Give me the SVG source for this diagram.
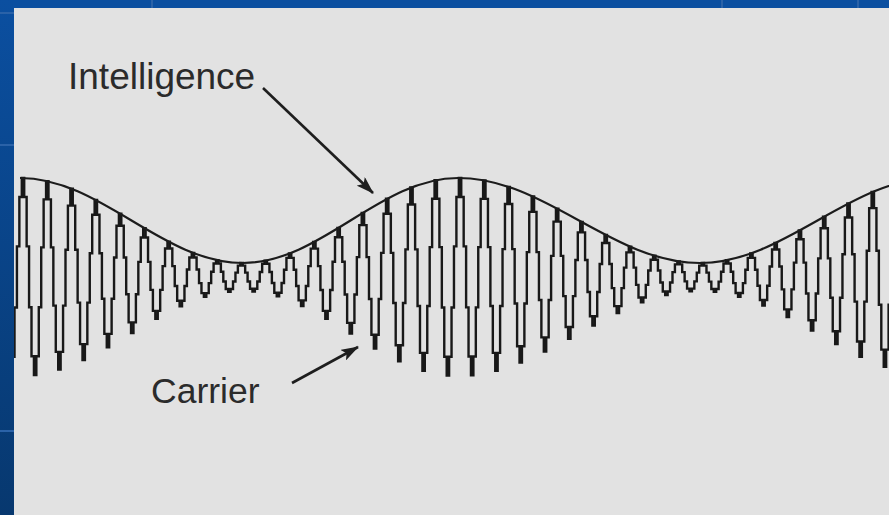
<svg xmlns="http://www.w3.org/2000/svg" width="889" height="515" viewBox="0 0 889 515">
<defs>
<style>
.lobe{fill:none;stroke:#181818;stroke-width:2.4;stroke-linejoin:miter;vector-effect:non-scaling-stroke}
.env{fill:none;stroke:#1c1c1c;stroke-width:2.2}
.lbl{font-family:"Liberation Sans",Arial,sans-serif;fill:#2b2b2b}
.arr{fill:none;stroke:#1e1e1e;stroke-width:2.6}
.hl{stroke:#2a62a8;stroke-width:2}
</style>
<linearGradient id="lg" x1="0" y1="0" x2="0" y2="1">
<stop offset="0" stop-color="#0b4fa0"/>
<stop offset="1" stop-color="#07386f"/>
</linearGradient>
<path id="up" class="lobe" d="M-6.07,0 V-0.309 H-3.64 V-0.809 H-1.21 V-1 H1.21 V-0.809 H3.64 V-0.309 H6.07 V0"/>
<path id="dn" class="lobe" d="M-6.07,0 V0.309 H-3.64 V0.809 H-1.21 V1 H1.21 V0.809 H3.64 V0.309 H6.07 V0"/>
<marker id="ah" viewBox="0 0 18 12" refX="17" refY="6" markerWidth="18" markerHeight="12" markerUnits="userSpaceOnUse" orient="auto">
<path d="M0,0 L18,6 L0,12 L4,6 Z" fill="#1e1e1e"/>
</marker>
</defs>
<rect x="0" y="0" width="889" height="515" fill="#e2e2e2"/>
<g id="carrier">
<use href="#up" transform="translate(-1.28,277) scale(1,97.10)"/>
<use href="#dn" transform="translate(10.86,277) scale(1,98.65)"/>
<use href="#up" transform="translate(23,277) scale(1,98.96)"/>
<use href="#dn" transform="translate(35.14,277) scale(1,98.04)"/>
<use href="#up" transform="translate(47.28,277) scale(1,95.90)"/>
<use href="#dn" transform="translate(59.42,277) scale(1,92.61)"/>
<use href="#up" transform="translate(71.56,277) scale(1,88.27)"/>
<use href="#dn" transform="translate(83.70,277) scale(1,83.01)"/>
<use href="#up" transform="translate(95.84,277) scale(1,76.96)"/>
<use href="#dn" transform="translate(107.98,277) scale(1,70.33)"/>
<use href="#up" transform="translate(120.12,277) scale(1,63.29)"/>
<use href="#dn" transform="translate(132.26,277) scale(1,56.05)"/>
<use href="#up" transform="translate(144.40,277) scale(1,48.82)"/>
<use href="#dn" transform="translate(156.54,277) scale(1,41.82)"/>
<use href="#up" transform="translate(168.68,277) scale(1,35.24)"/>
<use href="#dn" transform="translate(180.82,277) scale(1,29.29)"/>
<use href="#up" transform="translate(192.96,277) scale(1,24.12)"/>
<use href="#dn" transform="translate(205.10,277) scale(1,19.92)"/>
<use href="#up" transform="translate(217.24,277) scale(1,16.77)"/>
<use href="#dn" transform="translate(229.38,277) scale(1,14.78)"/>
<use href="#up" transform="translate(241.52,277) scale(1,14.01)"/>
<use href="#dn" transform="translate(253.66,277) scale(1,14.51)"/>
<use href="#up" transform="translate(265.80,277) scale(1,16.34)"/>
<use href="#dn" transform="translate(277.94,277) scale(1,19.42)"/>
<use href="#up" transform="translate(290.08,277) scale(1,23.67)"/>
<use href="#dn" transform="translate(302.22,277) scale(1,28.95)"/>
<use href="#up" transform="translate(314.36,277) scale(1,35.08)"/>
<use href="#dn" transform="translate(326.50,277) scale(1,41.90)"/>
<use href="#up" transform="translate(338.64,277) scale(1,49.17)"/>
<use href="#dn" transform="translate(350.78,277) scale(1,56.67)"/>
<use href="#up" transform="translate(362.92,277) scale(1,64.17)"/>
<use href="#dn" transform="translate(375.06,277) scale(1,71.43)"/>
<use href="#up" transform="translate(387.20,277) scale(1,78.22)"/>
<use href="#dn" transform="translate(399.34,277) scale(1,84.32)"/>
<use href="#up" transform="translate(411.48,277) scale(1,89.56)"/>
<use href="#dn" transform="translate(423.62,277) scale(1,93.75)"/>
<use href="#up" transform="translate(435.76,277) scale(1,96.78)"/>
<use href="#dn" transform="translate(447.90,277) scale(1,98.54)"/>
<use href="#up" transform="translate(460.04,277) scale(1,98.98)"/>
<use href="#dn" transform="translate(472.18,277) scale(1,98.28)"/>
<use href="#up" transform="translate(484.32,277) scale(1,96.54)"/>
<use href="#dn" transform="translate(496.46,277) scale(1,93.81)"/>
<use href="#up" transform="translate(508.60,277) scale(1,90.16)"/>
<use href="#dn" transform="translate(520.74,277) scale(1,85.66)"/>
<use href="#up" transform="translate(532.88,277) scale(1,80.45)"/>
<use href="#dn" transform="translate(545.02,277) scale(1,74.64)"/>
<use href="#up" transform="translate(557.16,277) scale(1,68.39)"/>
<use href="#dn" transform="translate(569.30,277) scale(1,61.83)"/>
<use href="#up" transform="translate(581.44,277) scale(1,55.15)"/>
<use href="#dn" transform="translate(593.58,277) scale(1,48.50)"/>
<use href="#up" transform="translate(605.72,277) scale(1,42.05)"/>
<use href="#dn" transform="translate(617.86,277) scale(1,35.96)"/>
<use href="#up" transform="translate(630.00,277) scale(1,30.38)"/>
<use href="#dn" transform="translate(642.14,277) scale(1,25.42)"/>
<use href="#up" transform="translate(654.28,277) scale(1,21.27)"/>
<use href="#dn" transform="translate(666.42,277) scale(1,17.97)"/>
<use href="#up" transform="translate(678.56,277) scale(1,15.64)"/>
<use href="#dn" transform="translate(690.70,277) scale(1,14.31)"/>
<use href="#up" transform="translate(702.84,277) scale(1,14.03)"/>
<use href="#dn" transform="translate(714.98,277) scale(1,14.85)"/>
<use href="#up" transform="translate(727.12,277) scale(1,16.76)"/>
<use href="#dn" transform="translate(739.26,277) scale(1,19.72)"/>
<use href="#up" transform="translate(751.40,277) scale(1,23.65)"/>
<use href="#dn" transform="translate(763.54,277) scale(1,28.43)"/>
<use href="#up" transform="translate(775.68,277) scale(1,33.96)"/>
<use href="#dn" transform="translate(787.82,277) scale(1,40.08)"/>
<use href="#up" transform="translate(799.96,277) scale(1,46.62)"/>
<use href="#dn" transform="translate(812.10,277) scale(1,53.43)"/>
<use href="#up" transform="translate(824.24,277) scale(1,60.32)"/>
<use href="#dn" transform="translate(836.38,277) scale(1,67.11)"/>
<use href="#up" transform="translate(848.52,277) scale(1,73.62)"/>
<use href="#dn" transform="translate(860.66,277) scale(1,79.68)"/>
<use href="#up" transform="translate(872.80,277) scale(1,85.14)"/>
<use href="#dn" transform="translate(884.94,277) scale(1,89.83)"/>
</g>
<g id="envelope">
<path class="env" d="M20,178 C101,178 162,263 243,263 C321,263 380,178 458,178 C546,178 612,263 700,263 C785,263 850,178 935,178"/>
</g>
<g id="label-intelligence">
<text class="lbl" x="68" y="89" font-size="37">Intelligence</text>
</g>
<g id="label-carrier">
<text class="lbl" x="151" y="403" font-size="35.5">Carrier</text>
</g>
<g id="connectors">
<line class="arr" x1="263" y1="88" x2="373" y2="193" marker-end="url(#ah)"/>
<line class="arr" x1="292" y1="383" x2="358" y2="347" marker-end="url(#ah)"/>
</g>
<g id="border">
<rect x="0" y="0" width="889" height="8" fill="#0b4fa0"/>
<rect x="0" y="0" width="14" height="515" fill="url(#lg)"/>
<line class="hl" x1="0" y1="13" x2="14" y2="13"/>
<line class="hl" x1="0" y1="145" x2="14" y2="145"/>
<line class="hl" x1="0" y1="431" x2="14" y2="431"/>
<line class="hl" x1="152" y1="0" x2="152" y2="8"/>
<line class="hl" x1="722" y1="0" x2="722" y2="8"/>
<line class="hl" x1="858" y1="0" x2="858" y2="8"/>
</g>
</svg>
